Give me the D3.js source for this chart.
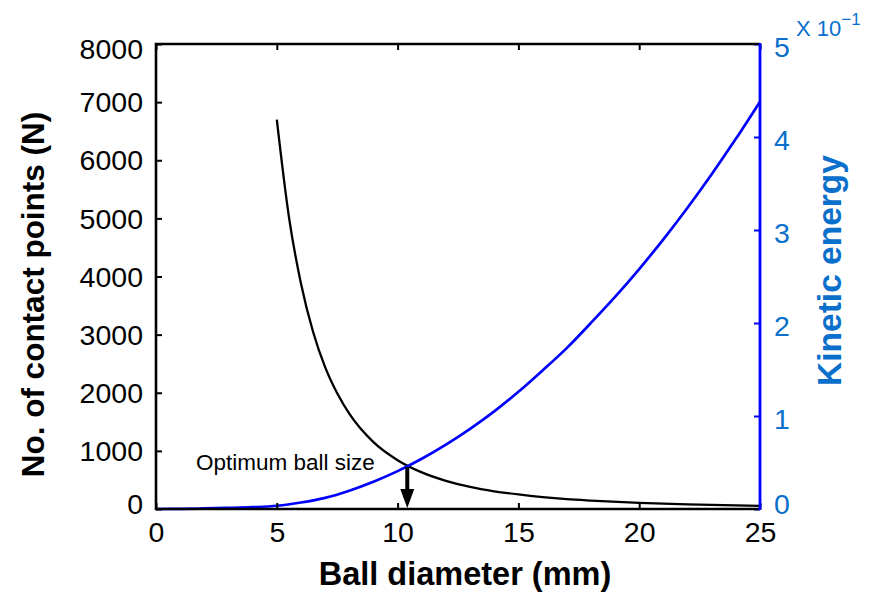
<!DOCTYPE html>
<html>
<head>
<meta charset="utf-8">
<script src="https://cdn.jsdelivr.net/npm/d3@7"></script>
<style>
  html, body { margin: 0; padding: 0; background: #fff; }
  svg { display: block; font-family: "Liberation Sans", Arial, Helvetica, sans-serif; }
</style>
</head>
<body>
<svg id="chart" width="870" height="592"></svg>
<script>
// Number of contact points vs ball diameter
const diameters = [5, 5.5, 6, 6.5, 7, 7.5, 8, 9, 10, 11, 12, 13, 14, 15, 16, 17, 18, 20, 22, 25];
const contactPoints = [6700, 5030, 3880, 3050, 2440, 1990, 1640, 1150, 840, 630, 485, 380, 305, 250, 205, 170, 145, 105, 80, 55];

// Kinetic energy (x 10^-1) vs ball diameter
const keDiameters = [0, 1, 2, 3, 4, 5, 6, 7, 8, 9, 10, 11, 12, 13, 14, 15, 16, 17, 18, 19, 20, 21, 22, 23, 24, 25];
const kineticEnergy = [0, 0.002, 0.006, 0.012, 0.02, 0.035, 0.07, 0.12, 0.197, 0.293, 0.407, 0.54, 0.692, 0.862, 1.05, 1.26, 1.49, 1.73, 2.0, 2.28, 2.58, 2.9, 3.24, 3.6, 3.98, 4.38];

// Tick values
const xTicks = [0, 5, 10, 15, 20, 25];
const leftTicks = [0, 1000, 2000, 3000, 4000, 5000, 6000, 7000, 8000];
const rightTicks = [0, 1, 2, 3, 4, 5];

// Optimum ball size marker
const optimumDiameter = 10.4;
const optimumContacts = 740;

(function draw() {
  const svg = d3.select("#chart");
  const pL = 156, pR = 760, pT = 44, pB = 509;

  const x = d3.scaleLinear().domain([0, 25]).range([pL, pR]);
  const yL = d3.scaleLinear().domain([0, 8000]).range([pB, pT]);
  const yR = d3.scaleLinear().domain([0, 5]).range([pB, pT]);

  const blueText = "#0b6fcc";
  const tickLen = 6;

  // Curves
  const lineN = d3.line().x((d, i) => x(diameters[i])).y(d => yL(d)).curve(d3.curveMonotoneX);
  const lineKE = d3.line().x((d, i) => x(keDiameters[i])).y(d => yR(d)).curve(d3.curveMonotoneX);

  svg.append("path").attr("d", lineN(contactPoints))
    .attr("fill", "none").attr("stroke", "#000").attr("stroke-width", 2.3);

  svg.append("path").attr("d", lineKE(kineticEnergy))
    .attr("fill", "none").attr("stroke", "#0000ff").attr("stroke-width", 2.7);

  // Axes with inward ticks
  const gB = svg.append("g").attr("transform", `translate(0,${pB})`)
    .call(d3.axisBottom(x).tickValues(xTicks).tickFormat(d3.format("d")).tickSize(-tickLen).tickPadding(13));
  const gT = svg.append("g").attr("transform", `translate(0,${pT})`)
    .call(d3.axisTop(x).tickValues(xTicks).tickFormat("").tickSize(-tickLen));
  const gL = svg.append("g").attr("transform", `translate(${pL},0)`)
    .call(d3.axisLeft(yL).tickValues(leftTicks).tickFormat(d3.format("d")).tickSize(-tickLen).tickPadding(13));
  const gR = svg.append("g").attr("transform", `translate(${pR},0)`)
    .call(d3.axisRight(yR).tickValues(rightTicks).tickFormat(d3.format("d")).tickSize(-tickLen).tickPadding(14));

  [gB, gT, gL, gR].forEach(g => {
    g.attr("font-family", null).attr("font-size", 28.5);
    g.select(".domain").remove();
    g.selectAll(".tick line").attr("stroke-width", 2).attr("stroke", "#000");
    g.selectAll(".tick text").attr("fill", "#000");
  });
  gR.selectAll(".tick line").attr("stroke", "#0000ff");
  gR.selectAll(".tick text").attr("fill", blueText);

  // Edge labels sit inside the axis extent
  gL.selectAll(".tick text").attr("dy", d => d === 8000 ? "0.52em" : d === 0 ? "0.14em" : "0.34em");
  gR.selectAll(".tick text").attr("dy", d => d === 0 ? "0.14em" : "0.45em");

  // Frame
  svg.append("path")
    .attr("d", `M${pR},${pT}H${pL}V${pB}H${pR}`)
    .attr("fill", "none").attr("stroke", "#000").attr("stroke-width", 2.6);
  svg.append("line")
    .attr("x1", pR).attr("x2", pR).attr("y1", pT - 1).attr("y2", pB + 1)
    .attr("stroke", "#0000ff").attr("stroke-width", 2.8);

  // Exponent note on right axis
  const mult = svg.append("text").attr("x", 796).attr("y", 36)
    .attr("fill", blueText).attr("font-size", 22);
  mult.append("tspan").text("X 10");
  mult.append("tspan").attr("dy", -11).attr("font-size", 17).text("\u22121");

  // Axis titles
  svg.append("text")
    .attr("transform", `translate(${(pL + pR) / 2 + 7},585)`)
    .attr("text-anchor", "middle").attr("font-size", 32.5).attr("font-weight", "bold")
    .attr("fill", "#000").text("Ball diameter (mm)");

  svg.append("text")
    .attr("transform", `translate(44,${(pT + pB) / 2 + 18}) rotate(-90)`)
    .attr("text-anchor", "middle").attr("font-size", 31.5).attr("font-weight", "bold")
    .attr("fill", "#000").text("No. of contact points (N)");

  svg.append("text")
    .attr("transform", `translate(841,${(pT + pB) / 2 - 6}) rotate(-90)`)
    .attr("text-anchor", "middle").attr("font-size", 33.5).attr("font-weight", "bold")
    .attr("fill", blueText).text("Kinetic energy");

  // Optimum marker: arrow from the crossing point down to the axis
  const ax = x(optimumDiameter);
  const y0 = yL(optimumContacts);
  const tipY = pB - 1;
  const headH = 19, headW = 14;
  svg.append("line")
    .attr("x1", ax).attr("x2", ax).attr("y1", y0 + 1).attr("y2", tipY - headH + 2)
    .attr("stroke", "#000").attr("stroke-width", 4);
  svg.append("path")
    .attr("d", `M${ax - headW / 2},${tipY - headH}L${ax + headW / 2},${tipY - headH}L${ax},${tipY}Z`)
    .attr("fill", "#000");

  svg.append("text").attr("x", 196).attr("y", 470)
    .attr("font-size", 22.5).attr("fill", "#000").text("Optimum ball size");
})();
</script>
</body>
</html>
